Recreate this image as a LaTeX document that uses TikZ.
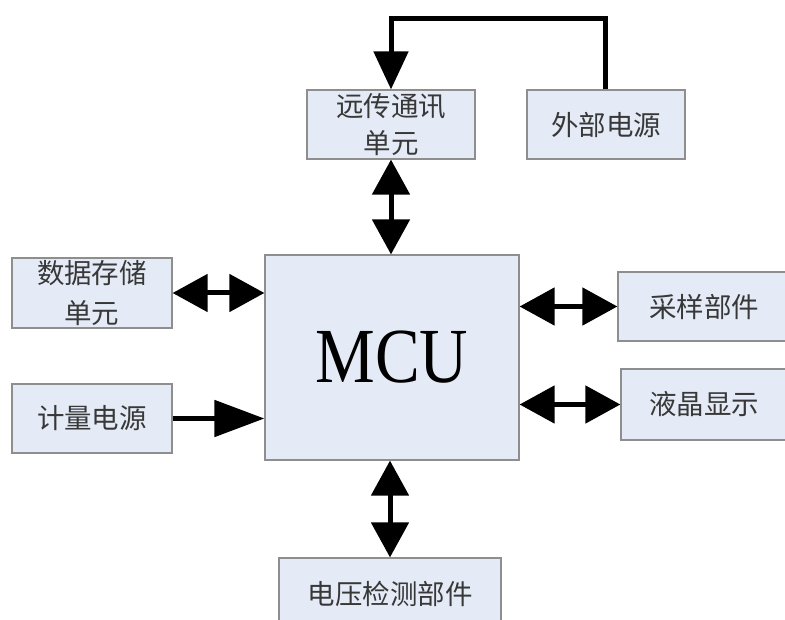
\documentclass[tikz,border=0pt]{standalone}
\usepackage{fontspec}
\setmainfont{Liberation Serif}
\newfontfamily\cjk{Noto Sans CJK SC}
\usetikzlibrary{arrows.meta}
\definecolor{boxfill}{HTML}{E5EBF6}
\definecolor{boxline}{HTML}{8E8E8E}
\begin{document}
\begin{tikzpicture}[x=1pt,y=-1pt,
  box/.style={draw=boxline,fill=boxfill,line width=1.2pt,inner sep=0pt,align=center,
    font=\cjk\fontsize{27.5}{35}\selectfont,text=black!78},
  conn/.style={line width=5pt},
  dbl/.style={conn,{Triangle[length=35pt,width=37pt]}-{Triangle[length=35pt,width=37pt]}},
  one/.style={conn,-{Triangle[length=50pt,width=36pt]}},
  top/.style={conn,-{Triangle[length=38pt,width=34pt]}}]
\useasboundingbox (0,0) rectangle (785,620);
\begin{scope}
\clip (0,0) rectangle (785,620);
\node[box,minimum width=168pt,minimum height=69pt] (remote) at (391,124.5) {\raisebox{2pt}{远传通讯}\\单元};
\node[box,minimum width=158pt,minimum height=69pt] (ext) at (606,124.5) {外部电源};
\node[box,minimum width=160pt,minimum height=70pt] (store) at (92,293) {\raisebox{5pt}{数据存储}\\单元};
\node[box,minimum width=160pt,minimum height=69pt] (meter) at (92,418.5) {计量电源};
\node[box,minimum width=254pt,minimum height=205pt,font=\fontsize{78}{78}\selectfont,text=black] (mcu) at (392,357.5) {\scalebox{0.86}[1]{MCU}};
\node[box,minimum width=182pt,minimum height=69pt] (sample) at (709,306.5) {\hspace*{-10pt}采样部件};
\node[box,minimum width=182pt,minimum height=71pt] (lcd) at (712,404.5) {\hspace*{-16pt}液晶显示};
\node[box,minimum width=222pt,minimum height=72pt] (volt) at (390,594) {电压检测部件};
\end{scope}
\coordinate (c1) at (605,19);
\coordinate (c2) at (391,19);
\draw[top] (ext.north -| c1) -- (c1) -- (c2) -- (remote.north);
\draw[dbl] (remote.south) -- (mcu.north -| remote.south);
\draw[dbl] (store.east) -- (mcu.west |- store.east);
\draw[one] (meter.east) -- (mcu.west |- meter.east);
\draw[dbl] (mcu.east |- sample.west) -- (sample.west);
\draw[dbl] (mcu.east |- lcd.west) -- (lcd.west);
\draw[dbl] (mcu.south -| volt.north) -- (volt.north);
\end{tikzpicture}
\end{document}
